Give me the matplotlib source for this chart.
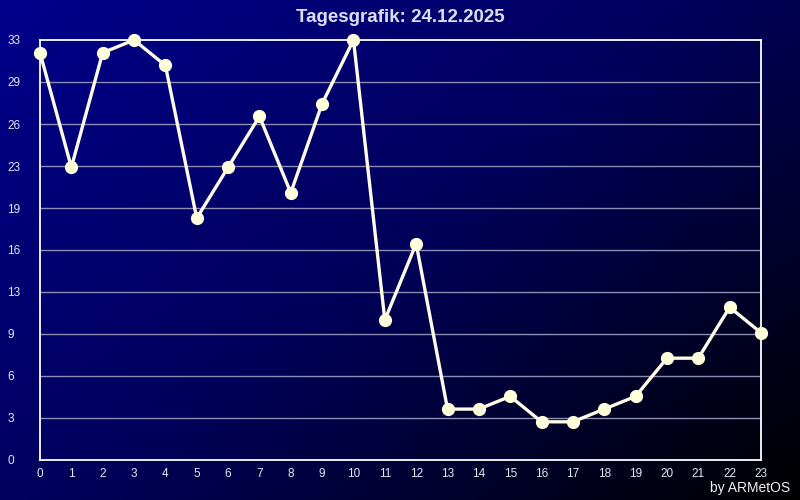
import numpy as np
import matplotlib
matplotlib.use("Agg")
import matplotlib.pyplot as plt
from matplotlib.colors import LinearSegmentedColormap

plt.rcParams['font.family'] = ['Liberation Sans', 'DejaVu Sans']

# Daten
hours = list(range(24))
values = [32, 23, 32, 33, 31, 19, 23, 27, 21, 28, 33, 11, 17, 4, 4, 5, 3, 3, 4, 5, 8, 8, 12, 10]
y_max = 33
y_ticks = np.linspace(0, y_max, 11)
y_labels = [str(int(v + 1e-9)) for v in y_ticks]  # abgeschnitten wie im Original

fig = plt.figure(figsize=(8, 5), dpi=100)

# Hintergrund-Verlauf (oben links blau -> unten rechts schwarz)
bg = fig.add_axes([0, 0, 1, 1], zorder=-10)
xx, yy = np.meshgrid(np.linspace(0, 1, 400), np.linspace(0, 1, 250))
grad = (xx * 0.55 + yy * 0.45)
cmap = LinearSegmentedColormap.from_list("bg", ["#00008c", "#00005a", "#000000"])
bg.imshow(grad, cmap=cmap, aspect='auto', extent=[0, 1, 0, 1], origin='upper')
bg.axis('off')

ax = fig.add_axes([40 / 800, 40 / 500, 721 / 800, 420 / 500])
ax.set_facecolor('none')
ax.set_xlim(0, 23)
ax.set_ylim(0, y_max)

for y in y_ticks[1:-1]:
    ax.axhline(y, color='#8c8cb4', lw=1, zorder=1)

ax.plot(hours, values, color='#fffbe6', lw=2.4, marker='o', ms=8.5,
        mfc='#ffffdc', mec='#ffffdc', clip_on=False, zorder=3)

for s in ax.spines.values():
    s.set_color('white')
    s.set_linewidth(1.3)

ax.set_xticks(hours)
ax.set_xticklabels([str(h) for h in hours])
ax.set_yticks(y_ticks)
ax.set_yticklabels(y_labels)
ax.tick_params(axis='both', length=0, colors='#e6e6f0', labelsize=8.5)
ax.tick_params(axis='x', pad=6)
ax.tick_params(axis='y', pad=23.5)
for lab in ax.get_yticklabels():
    lab.set_horizontalalignment('left')

fig.text(0.5, 1 - 17 / 500, "Tagesgrafik: 24.12.2025", ha='center', va='center',
         fontsize=13.5, fontweight='bold', color='#dcdcf0')
fig.text(790 / 800, 1 - 488 / 500, "by ARMetOS", ha='right', va='center',
         fontsize=10, color='#f0f0f0')

fig.savefig("out.png", dpi=100)
